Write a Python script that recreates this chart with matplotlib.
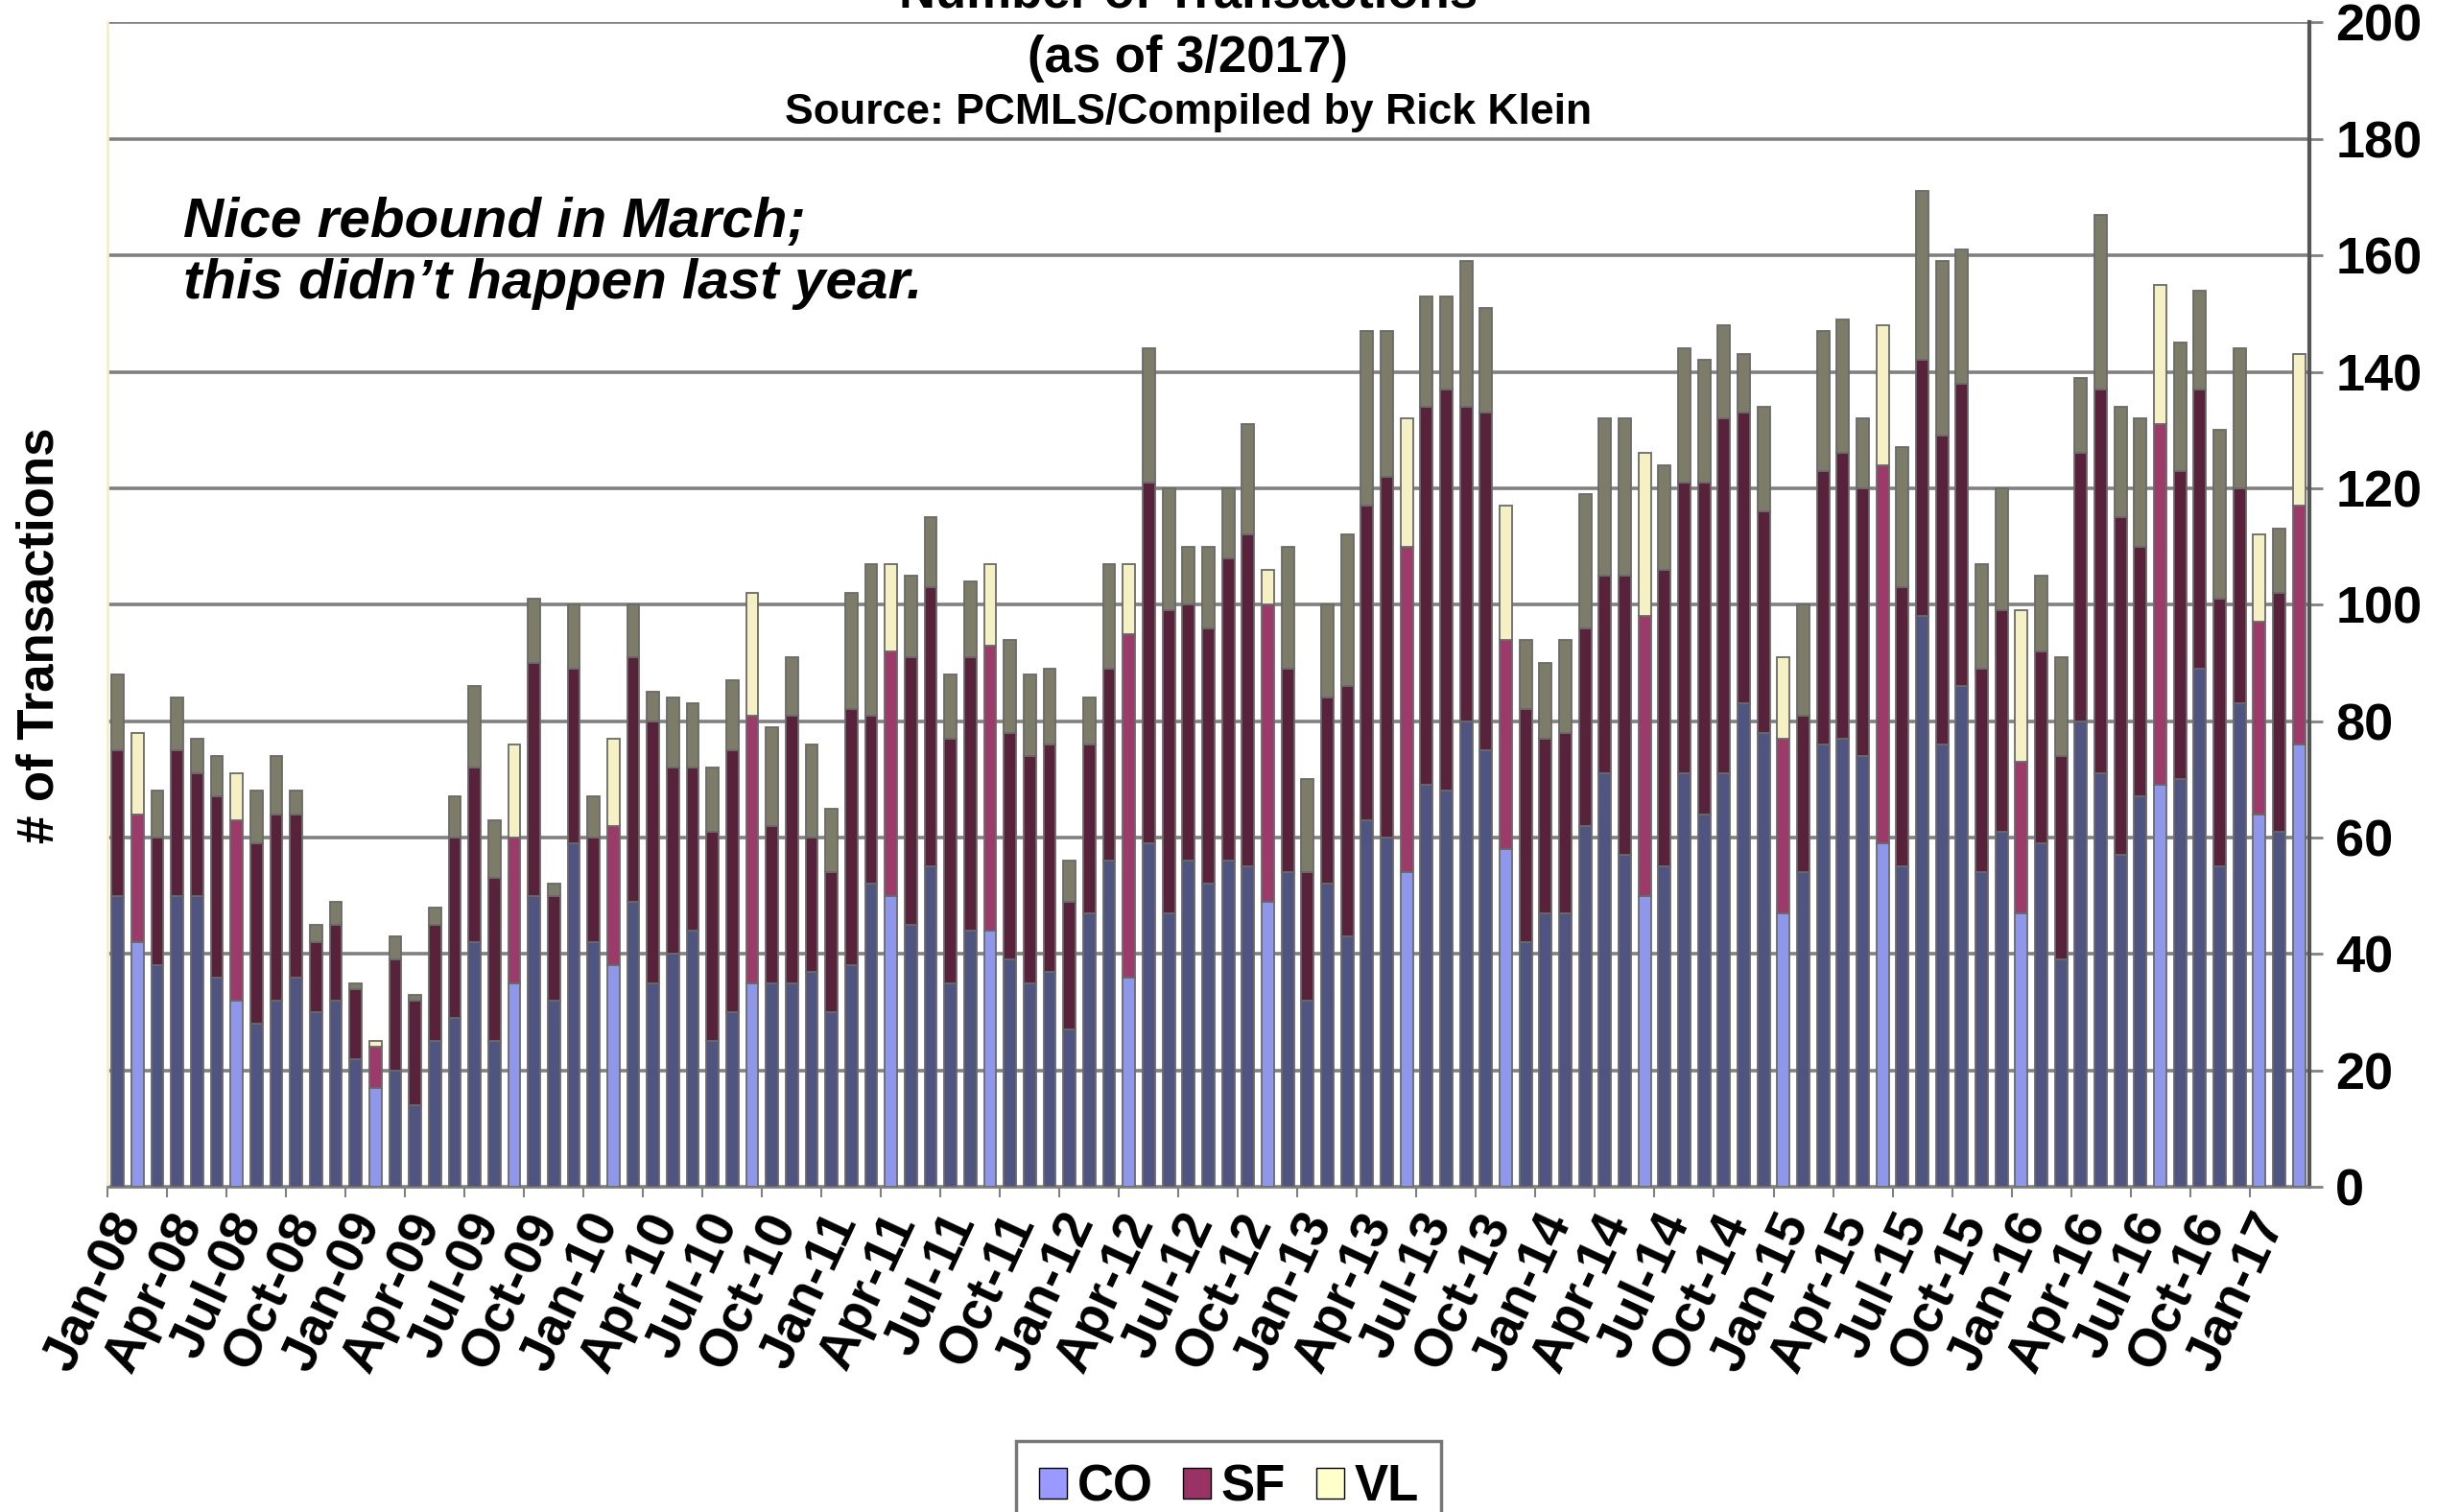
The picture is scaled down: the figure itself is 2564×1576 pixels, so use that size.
import matplotlib
matplotlib.use("Agg")
import matplotlib.pyplot as plt
from matplotlib.patches import Patch
import numpy as np

# Data
years = ["08", "09", "10", "11", "12", "13", "14", "15", "16", "17"]
months = ["Jan", "Feb", "Mar", "Apr", "May", "Jun", "Jul", "Aug", "Sep", "Oct", "Nov", "Dec"]
labels = [f"{m}-{y}" for y in years for m in months][:111]

co = [50, 42, 38, 50, 50, 36, 32, 28, 32, 36, 30, 32,
      22, 17, 20, 14, 25, 29, 42, 25, 35, 50, 32, 59,
      42, 38, 49, 35, 40, 44, 25, 30, 35, 35, 35, 37,
      30, 38, 52, 50, 45, 55, 35, 44, 44, 39, 35, 37,
      27, 47, 56, 36, 59, 47, 56, 52, 56, 55, 49, 54,
      32, 52, 43, 63, 60, 54, 69, 68, 80, 75, 58, 42,
      47, 47, 62, 71, 57, 50, 55, 71, 64, 71, 83, 78,
      47, 54, 76, 77, 74, 59, 55, 98, 76, 86, 54, 61,
      47, 59, 39, 80, 71, 57, 67, 69, 70, 89, 55, 83,
      64, 61, 76]
sf = [25, 22, 22, 25, 21, 31, 31, 31, 32, 28, 12, 13,
      12, 7, 19, 18, 20, 31, 30, 28, 25, 40, 18, 30,
      18, 24, 42, 45, 32, 28, 36, 45, 46, 27, 46, 23,
      24, 44, 29, 42, 46, 48, 42, 47, 49, 39, 39, 39,
      22, 29, 33, 59, 62, 52, 44, 44, 52, 57, 51, 35,
      22, 32, 43, 54, 62, 56, 65, 69, 54, 58, 36, 40,
      30, 31, 34, 34, 48, 48, 51, 50, 57, 61, 50, 38,
      30, 27, 47, 49, 46, 65, 48, 44, 53, 52, 35, 38,
      26, 33, 35, 46, 66, 58, 43, 62, 53, 48, 46, 37,
      33, 41, 41]
vl = [13, 14, 8, 9, 6, 7, 8, 9, 10, 4, 3, 4,
      1, 1, 4, 1, 3, 7, 14, 10, 16, 11, 2, 11,
      7, 15, 9, 5, 12, 11, 11, 12, 21, 17, 10, 16,
      11, 20, 26, 15, 14, 12, 11, 13, 14, 16, 14, 13,
      7, 8, 18, 12, 23, 21, 10, 14, 12, 19, 6, 21,
      16, 16, 26, 30, 25, 22, 19, 16, 25, 18, 23, 12,
      13, 16, 23, 27, 27, 28, 18, 23, 21, 16, 10, 18,
      14, 19, 24, 23, 12, 24, 24, 29, 30, 23, 18, 21,
      26, 13, 17, 13, 30, 19, 22, 24, 22, 17, 29, 24,
      15, 11, 26]

# bars that show in the lighter (true) colours in the reference
light_bars = [1, 6, 13, 20, 25, 32, 39, 44, 51, 58, 65, 70, 77, 84, 89, 96, 103, 108, 110]

############################
# Plot
############################

FONT = "Liberation Sans"
plt.rcParams["font.family"] = [FONT, "DejaVu Sans"]

fig = plt.figure(figsize=(25.64, 15.76), dpi=100)
ax = fig.add_axes([0.0438, 0.2151, 0.8948, 0.770])

x = np.arange(len(co))
co = np.array(co)
sf = np.array(sf)
vl = np.array(vl)

dark = {"CO": "#4f5580", "SF": "#58223a", "VL": "#7c7c68"}
light = {"CO": "#8f97ea", "SF": "#9c3a6a", "VL": "#f6f1c4"}

def pick(name):
    return [light[name] if i in light_bars else dark[name] for i in x]

w = 0.62
ec = "#6a6a6a"
ax.bar(x, co, w, color=pick("CO"), edgecolor=ec, linewidth=1.3, zorder=3)
ax.bar(x, sf, w, bottom=co, color=pick("SF"), edgecolor=ec, linewidth=1.3, zorder=3)
ax.bar(x, vl, w, bottom=co + sf, color=pick("VL"), edgecolor=ec, linewidth=1.3, zorder=3)

ax.set_xlim(-0.5, len(co) - 0.5)
ax.set_ylim(0, 200)

ax.yaxis.tick_right()
ax.set_yticks(range(0, 201, 20))
ax.tick_params(axis="y", labelsize=39, length=10, width=2, color="#808080", pad=10)
for t in ax.get_yticklabels():
    t.set_fontweight("bold")

tick_pos = np.arange(0, len(co), 3)
ax.set_xticks(tick_pos - 0.5)
ax.set_xticklabels([labels[i] for i in tick_pos], rotation=65, ha="right",
                   rotation_mode="anchor", fontsize=40, fontweight="bold")
ax.tick_params(axis="x", length=8, width=1.5, color="#808080", pad=6)

ax.grid(axis="y", color="#808080", linewidth=2.6, zorder=0)
ax.set_axisbelow(True)

ax.spines["top"].set_visible(False)
ax.spines["left"].set_color("#f3eec6")
ax.spines["left"].set_linewidth(2)
ax.spines["right"].set_color("#555555")
ax.spines["right"].set_linewidth(3)
ax.spines["bottom"].set_color("#808080")
ax.spines["bottom"].set_linewidth(2)

fig.text(0.016, 0.58, "# of Transactions", rotation=90, ha="center", va="center",
         fontsize=38, fontweight="bold")

fig.text(0.483, 1.004, "Number of Transactions", ha="center", va="center",
         fontsize=38, fontweight="bold")
fig.text(0.483, 0.9616, "(as of 3/2017)", ha="center", va="center",
         fontsize=38, fontweight="bold")
fig.text(0.483, 0.9253, "Source: PCMLS/Compiled by Rick Klein", ha="center", va="center",
         fontsize=32, fontweight="bold")

fig.text(0.0746, 0.8325, "Nice rebound in March;\nthis didn\u2019t happen last year.",
         ha="left", va="center", fontsize=42, fontweight="bold", style="italic",
         linespacing=1.22)

handles = [Patch(facecolor="#9999ff", edgecolor="black", label="CO"),
           Patch(facecolor="#993366", edgecolor="black", label="SF"),
           Patch(facecolor="#ffffcc", edgecolor="black", label="VL")]
leg = fig.legend(handles=handles, loc="upper center", bbox_to_anchor=(0.4995, 0.064),
                 ncol=3, frameon=True, fancybox=False, fontsize=38,
                 handlelength=0.55, handleheight=0.55, handletextpad=0.2,
                 columnspacing=0.6, borderpad=0.45)
leg.get_frame().set_edgecolor("#555555")
leg.get_frame().set_linewidth(2.5)
for t in leg.get_texts():
    t.set_fontweight("bold")

fig.savefig("out.png", dpi=100)
